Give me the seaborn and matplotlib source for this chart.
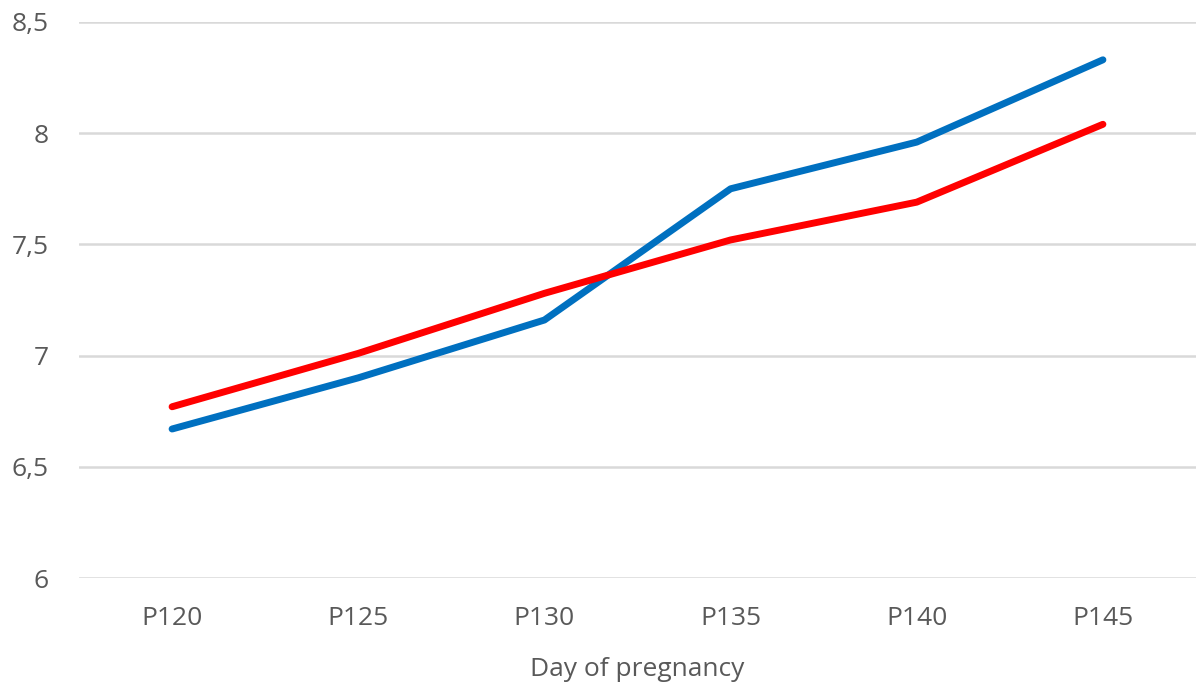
import matplotlib
matplotlib.use("Agg")
import matplotlib.pyplot as plt
import seaborn as sns
import pandas as pd

days = ["P120", "P125", "P130", "P135", "P140", "P145"]
blue_vals = [6.67, 6.90, 7.16, 7.75, 7.96, 8.33]
red_vals = [6.77, 7.01, 7.28, 7.52, 7.69, 8.04]

df = pd.DataFrame({
    "day": days * 2,
    "value": blue_vals + red_vals,
    "series": ["blue"] * len(days) + ["red"] * len(days),
})

sns.set_style("white")
plt.rcParams["font.family"] = ["Open Sans", "DejaVu Sans"]

fig = plt.figure(figsize=(11.99, 6.89), dpi=100)
ax = fig.add_axes([79 / 1199, 1 - 578 / 689, (1196 - 79) / 1199, (578 - 22) / 689])

sns.lineplot(data=df, x="day", y="value", hue="series",
             palette={"blue": "#0070C0", "red": "#FF0000"},
             linewidth=5.0, sort=False, legend=False, ax=ax,
             solid_capstyle="round")

ax.set_xlim(-0.5, len(days) - 0.5)
ax.set_ylim(6, 8.5)
ax.set_yticks([6, 6.5, 7, 7.5, 8, 8.5])
ax.set_yticklabels(["6", "6,5", "7", "7,5", "8", "8,5"])
ax.yaxis.grid(True, color="#D9D9D9", linewidth=1.8)
ax.set_axisbelow(True)
for s in ax.spines.values():
    s.set_visible(False)
ax.tick_params(axis="both", length=0, labelsize=19, colors="#595959")
ax.tick_params(axis="y", pad=22)
ax.tick_params(axis="x", pad=20)
ax.set_xlabel("Day of pregnancy", fontsize=19, color="#595959", labelpad=19)
ax.set_ylabel("")

fig.savefig("out.png", dpi=100, facecolor="white")
